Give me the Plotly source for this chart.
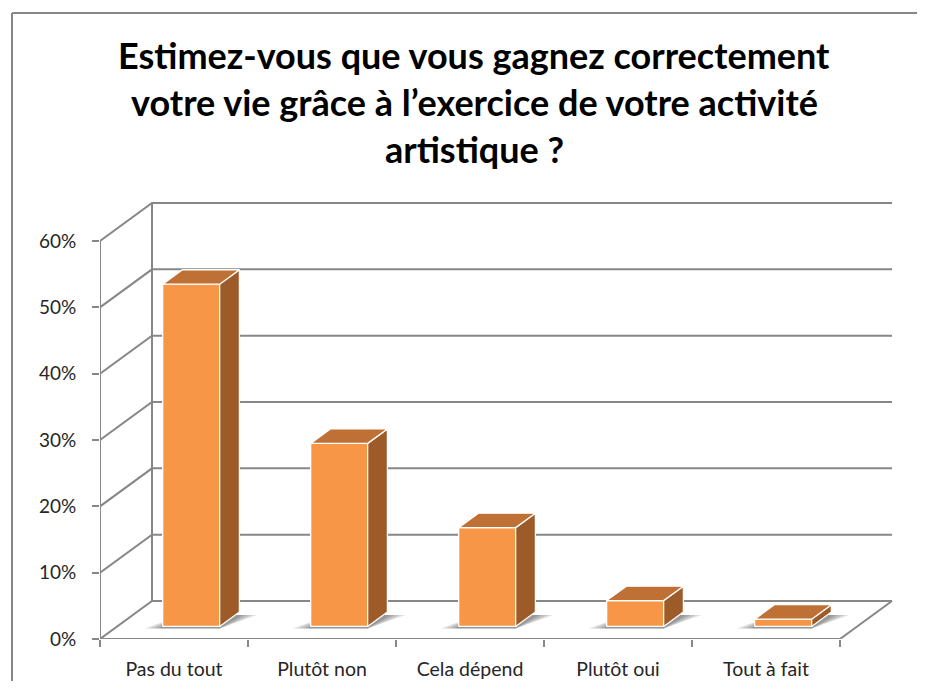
import plotly.graph_objects as go

categories = ["Pas du tout", "Plutôt non", "Cela dépend", "Plutôt oui", "Tout à fait"]
values = [51.6, 27.6, 14.9, 3.9, 1.1]
ticks = [0, 10, 20, 30, 40, 50, 60]
tick_labels = ["0%", "10%", "20%", "30%", "40%", "50%", "60%"]
title_lines = ["Estimez-vous que vous gagnez correctement",
               "votre vie grâce à l’exercice de votre activité",
               "artistique ?"]

# page / plot geometry (pixels); the page body adds an 8px margin,
# so the figure is kept a bit smaller than the window to avoid scrollbars
OFF = 8
W, H = 925 - 2 * OFF, 689 - 2 * OFF
L, R, T = 100 - OFF, 10, 180 - OFF
B = H - (639 - OFF)
PX_X = 148.0      # pixels per category
PX_Y = 6.633      # pixels per percent
DX = 52 / PX_X    # depth of the 3d box, in data units
DY = 38 / PX_Y
BAR_W = 0.385
F = 0.33          # depth of bar front face
BD = 0.38         # bar depth

GRID = "#878787"
FRONT = "#F79646"
TOP = "#BF7035"
SIDE = "#9D5B29"
FONT = "Lato, Liberation Sans, sans-serif"

n = len(categories)
top_tick = ticks[-1]
plot_w = W - L - R
plot_h = H - T - B

fig = go.Figure()


def add_line(xs, ys, color=GRID, width=2):
    fig.add_trace(go.Scatter(x=xs, y=ys, mode="lines", line=dict(color=color, width=width),
                             hoverinfo="skip", showlegend=False, cliponaxis=False))


# walls and gridlines
add_line([0, 0], [0, top_tick])
add_line([DX, DX], [DY, top_tick + DY])
for t in ticks:
    add_line([0, DX, n + DX], [t, t + DY, t + DY])
add_line([0, n, n + DX], [0, 0, DY])


def polys(list_of_pts):
    xs, ys = [], []
    for pts in list_of_pts:
        for px, py in pts + [pts[0]]:
            xs.append(px)
            ys.append(py)
        xs.append(None)
        ys.append(None)
    return xs, ys


fronts, sides, tops = [], [], []
pads = [0.12, 0.085, 0.05, 0.02]
shadows = [[] for _ in pads]
ox, oy = BD * DX, BD * DY
for i, v in enumerate(values):
    c = i + 0.5
    x0 = c - BAR_W / 2 + F * DX
    x1 = x0 + BAR_W
    y0 = F * DY
    y1 = y0 + v
    fronts.append([(x0, y0), (x1, y0), (x1, y1), (x0, y1)])
    sides.append([(x1, y0), (x1 + ox, y0 + oy), (x1 + ox, y1 + oy), (x1, y1)])
    tops.append([(x0, y1), (x1, y1), (x1 + ox, y1 + oy), (x0 + ox, y1 + oy)])
    for k, pad in enumerate(pads):
        shadows[k].append([(x0 - pad, y0 - 0.3), (x1, y0 - 0.3),
                           (x1 + ox + pad, y0 + oy * 0.8), (x0 + ox, y0 + oy * 0.8)])

for k in range(len(pads)):
    xs, ys = polys(shadows[k])
    fig.add_trace(go.Scatter(x=xs, y=ys, mode="lines", fill="toself",
                             fillcolor="rgba(60,60,60,0.17)", line=dict(width=0),
                             hoverinfo="skip", showlegend=False))

for faces, col in [(fronts, FRONT), (sides, SIDE), (tops, TOP)]:
    xs, ys = polys(faces)
    fig.add_trace(go.Scatter(x=xs, y=ys, mode="lines", fill="toself", fillcolor=col,
                             line=dict(color="white", width=1.3),
                             hoverinfo="skip", showlegend=False))


def paper_x(px):
    return (px - OFF - L) / plot_w


def paper_y(py):
    return (H - B - (py - OFF)) / plot_h


annotations = []
for line, py in zip(title_lines, [55, 102, 149]):
    annotations.append(dict(text="<b>" + line + "</b>", xref="paper", yref="paper",
                            x=paper_x(474), y=paper_y(py), xanchor="center", yanchor="middle",
                            showarrow=False, font=dict(size=36, color="black", family=FONT)))

# chart frame: only its top and left edges fall inside the picture
frame = [
    dict(type="line", xref="paper", yref="paper",
         x0=paper_x(12), x1=paper_x(930), y0=paper_y(13), y1=paper_y(13)),
    dict(type="line", xref="paper", yref="paper",
         x0=paper_x(12), x1=paper_x(12), y0=paper_y(13), y1=paper_y(700)),
]
for s in frame:
    s["line"] = dict(color=GRID, width=2)
    s["layer"] = "below"

fig.update_layout(
    width=W, height=H,
    margin=dict(l=L, r=R, t=T, b=B, autoexpand=False),
    paper_bgcolor="white", plot_bgcolor="white",
    showlegend=False,
    font=dict(family=FONT, color="#262626"),
    annotations=annotations,
    xaxis=dict(range=[0, plot_w / PX_X], showgrid=False, zeroline=False, showline=False,
               automargin=False,
               tickmode="array", tickvals=[i + 0.5 for i in range(n)], ticktext=categories,
               ticks="", ticklabelstandoff=16, tickfont=dict(size=19.5, color="#262626"),
               minor=dict(tickmode="array", tickvals=list(range(n + 1)), ticks="outside",
                          ticklen=7, tickwidth=2, tickcolor=GRID),
               fixedrange=True),
    yaxis=dict(range=[0, plot_h / PX_Y], showgrid=False, zeroline=False, showline=False,
               automargin=False,
               tickmode="array", tickvals=ticks, ticktext=tick_labels,
               ticks="outside", ticklen=7, tickwidth=2, tickcolor=GRID,
               ticklabelstandoff=12, tickfont=dict(size=19, color="#262626"),
               fixedrange=True),
    shapes=frame,
)

fig.write_html("out.html")
